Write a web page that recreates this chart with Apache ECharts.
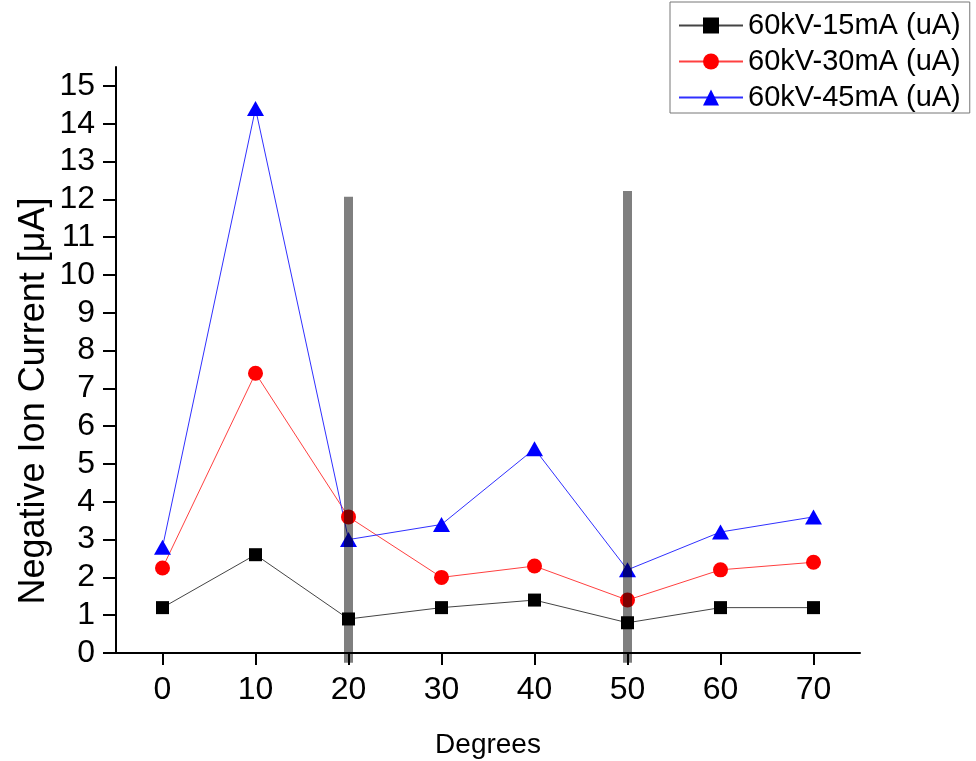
<!DOCTYPE html>
<html>
<head>
<meta charset="utf-8">
<script src="https://cdn.jsdelivr.net/npm/echarts@6/dist/echarts.min.js"></script>
<style>html,body{margin:0;padding:0;background:#fff;}#c{width:976px;height:761px;}</style>
</head>
<body>
<div id="c"></div>
<script>
const degrees = [0, 10, 20, 30, 40, 50, 60, 70];
const s15 = [1.2, 2.6, 0.9, 1.2, 1.4, 0.8, 1.2, 1.2];
const s30 = [2.25, 7.4, 3.6, 2.0, 2.3, 1.4, 2.2, 2.4];
const s45 = [2.8, 14.4, 3.0, 3.4, 5.4, 2.2, 3.2, 3.6];
const seriesNames = ['60kV-15mA (uA)', '60kV-30mA (uA)', '60kV-45mA (uA)'];
const xTicks = [0, 10, 20, 30, 40, 50, 60, 70];
const yTicks = [0,1,2,3,4,5,6,7,8,9,10,11,12,13,14,15];
const bar1 = [[20, -0.26], [20, 12.07]];
const bar2 = [[50, -0.26], [50, 12.22]];

const pair = arr => degrees.map((d, i) => [d, arr[i]]);
const font = 'Liberation Sans, Arial, sans-serif';

const chart = echarts.init(document.getElementById('c'));
chart.setOption({
  animation: false,
  backgroundColor: '#fff',
  grid: { left: 116, right: 116, top: 67, bottom: 108, containLabel: false, outerBoundsMode: 'none' },
  legend: {
    orient: 'vertical',
    left: 670, top: 2,
    padding: [9, 9, 1, 8],
    itemGap: 7,
    itemWidth: 64, itemHeight: 20,
    borderColor: '#777', borderWidth: 1,
    backgroundColor: '#fff',
    data: seriesNames,
    textStyle: { fontFamily: font, fontSize: 29, color: '#000' }
  },
  xAxis: {
    type: 'value', min: -5, max: 75,
    name: 'Degrees', nameLocation: 'middle', nameGap: 78,
    nameTextStyle: { fontFamily: font, fontSize: 28, color: '#000' },
    axisLine: { show: true, onZero: false, lineStyle: { color: '#000', width: 2 } },
    axisTick: { show: true, length: 12, customValues: xTicks, lineStyle: { color: '#000', width: 2 } },
    axisLabel: { customValues: xTicks, margin: 21, fontFamily: font, fontSize: 32, color: '#000' },
    splitLine: { show: false }
  },
  yAxis: {
    type: 'value', min: 0, max: 15.5,
    axisLine: { show: true, onZero: false, lineStyle: { color: '#000', width: 2 } },
    axisTick: { show: true, length: 13, customValues: yTicks, lineStyle: { color: '#000', width: 2 } },
    axisLabel: { customValues: yTicks, margin: 21, fontFamily: font, fontSize: 32, color: '#000' },
    splitLine: { show: false }
  },
  graphic: [{
    type: 'text',
    x: 34, y: 401, rotation: Math.PI / 2,
    style: { text: 'Negative Ion Current [μA]', font: '36px ' + font, fill: '#000', align: 'center', verticalAlign: 'middle' },
    z: 10
  }],
  series: [
    { name: seriesNames[0], type: 'line', data: pair(s15), symbol: 'rect', symbolSize: 13,
      itemStyle: { color: '#000' }, lineStyle: { color: '#444', width: 1 }, z: 2 },
    { name: seriesNames[1], type: 'line', data: pair(s30), symbol: 'circle', symbolSize: 15,
      itemStyle: { color: '#ff0000' }, lineStyle: { color: '#ff4040', width: 1 }, z: 2 },
    { name: seriesNames[2], type: 'line', data: pair(s45), symbol: 'triangle', symbolSize: [17, 15],
      itemStyle: { color: '#0000ff' }, lineStyle: { color: '#3030ff', width: 1 }, z: 2 },
    { type: 'line', data: bar1, symbol: 'none', clip: false, silent: true,
      lineStyle: { color: 'rgba(0,0,0,0.5)', width: 9, cap: 'butt' }, z: 5 },
    { type: 'line', data: bar2, symbol: 'none', clip: false, silent: true,
      lineStyle: { color: 'rgba(0,0,0,0.5)', width: 9, cap: 'butt' }, z: 5 }
  ]
});
</script>
</body>
</html>
